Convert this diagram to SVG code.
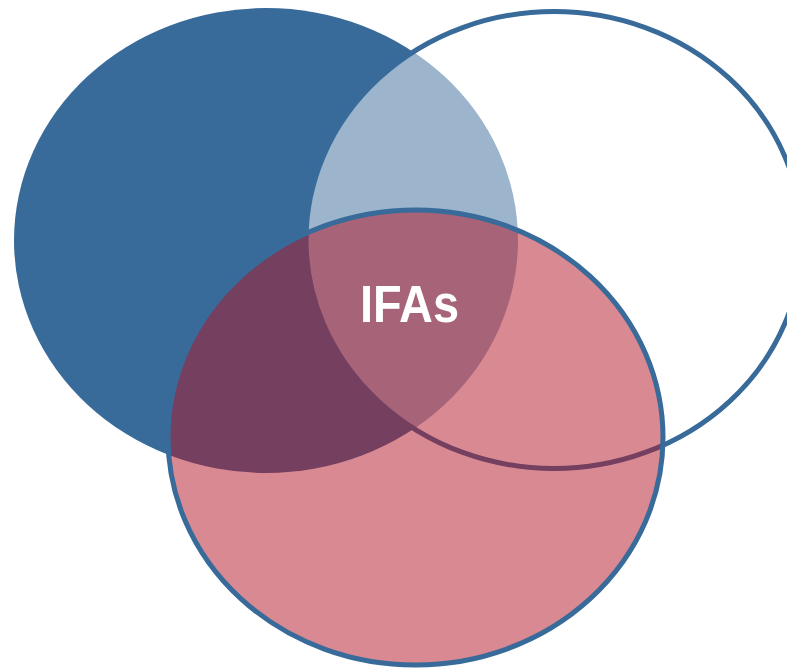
<svg xmlns="http://www.w3.org/2000/svg" width="787" height="670" viewBox="0 0 787 670">
  <style>
    .ring { stroke: #386A9A; stroke-width: 5; }
    .label { font-family: "Liberation Sans", Arial, sans-serif; font-weight: bold; fill: #FFFFFF; }
  </style>
  <rect width="787" height="670" fill="#FFFFFF"/>
  <g id="set-left">
    <ellipse cx="266" cy="240.5" rx="252" ry="232.5" fill="#386A9A"/>
  </g>
  <g id="set-right">
    <ellipse class="ring" cx="554" cy="240" rx="248" ry="228.5" fill="#FFFFFF" fill-opacity="0.5"/>
  </g>
  <g id="set-bottom">
    <ellipse class="ring" cx="415.5" cy="437.5" rx="247.5" ry="227.5" fill="#B21426" fill-opacity="0.5"/>
  </g>
  <g id="label-center">
    <text class="label" x="0" y="0" font-size="51" text-anchor="middle" transform="translate(409.5 322) scale(0.92 1)">IFAs</text>
  </g>
</svg>
